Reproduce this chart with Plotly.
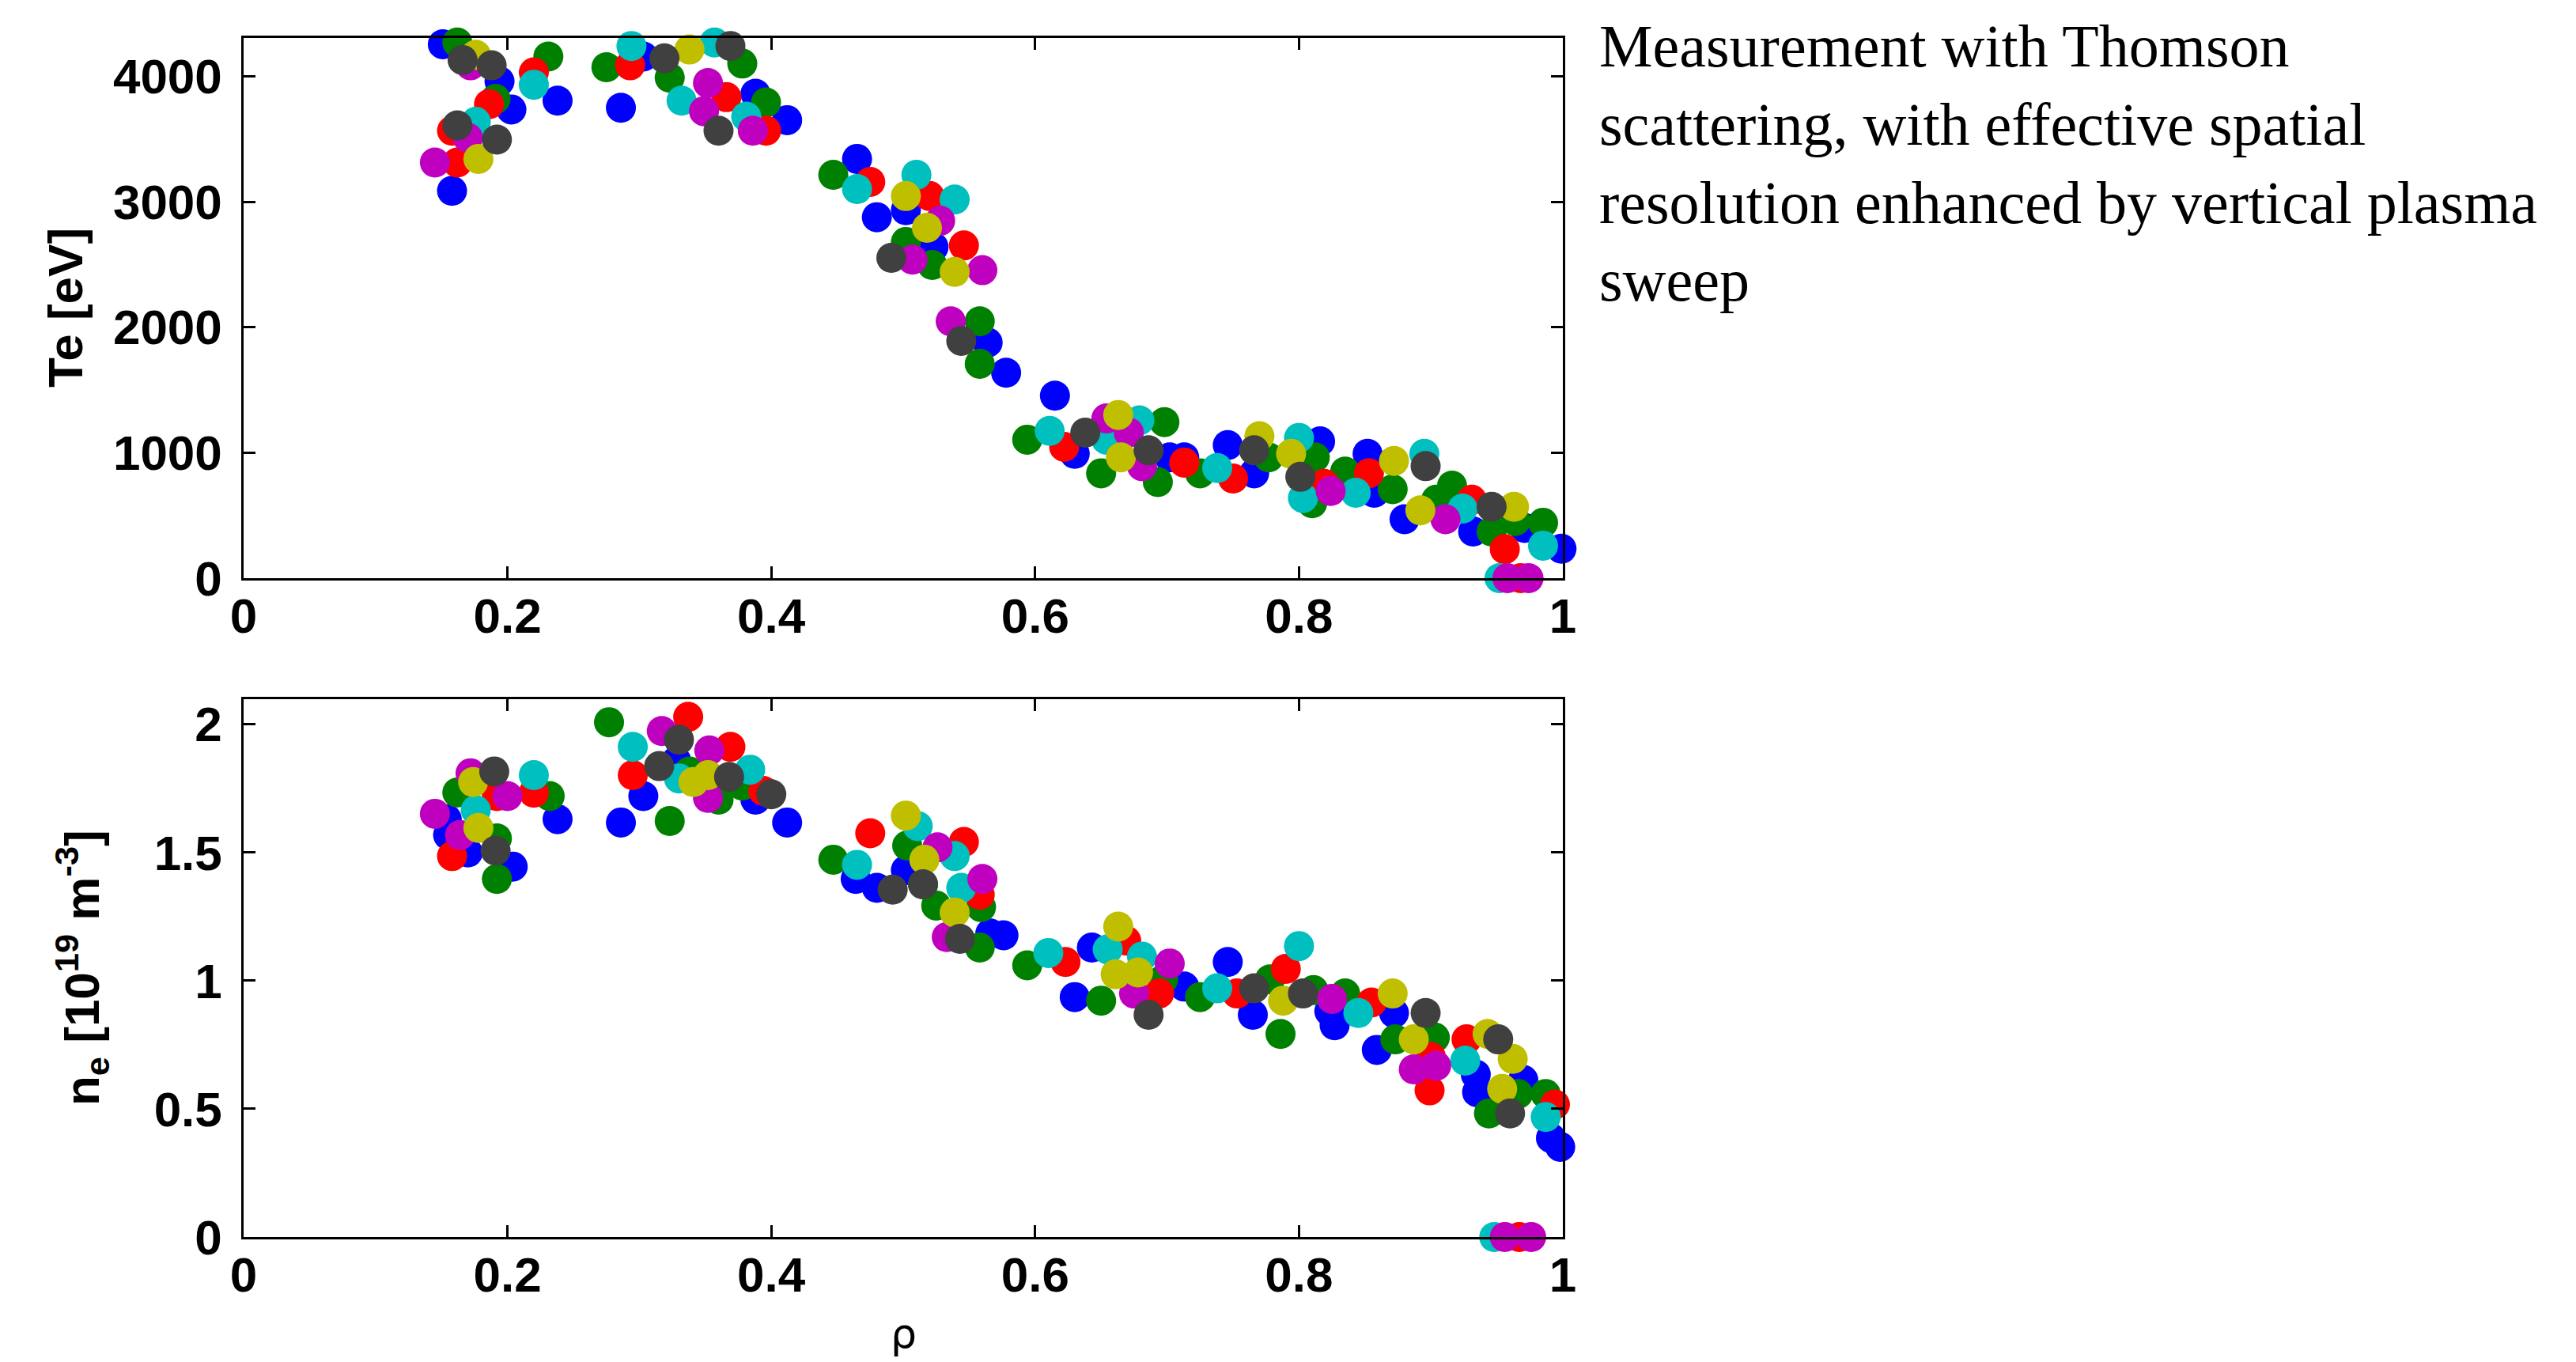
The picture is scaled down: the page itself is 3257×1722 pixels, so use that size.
import plotly.graph_objects as go

# ---------------- data ----------------
series_names = ["blue", "green", "red", "cyan", "magenta", "olive", "gray"]
series_colors = ["#0000FF", "#008000", "#FF0000", "#00BFBF", "#BF00BF", "#BFBF00", "#404040"]

# Te panel
rho_te_blue = [0.151, 0.158, 0.194, 0.203, 0.238, 0.286, 0.303, 0.388, 0.412, 0.465, 0.480, 0.502, 0.523, 0.564, 0.578, 0.615, 0.630, 0.702, 0.713, 0.746, 0.766, 0.816, 0.852, 0.857, 0.880, 0.932, 0.971, 0.999]
te_blue = [4256, 3088, 3961, 3736, 3806, 3750, 4158, 3862, 3651, 3342, 2877, 2933, 2640, 1878, 1638, 1455, 991, 963, 963, 1061, 836, 1090, 991, 681, 470, 372, 400, 235]

rho_te_green = [0.162, 0.191, 0.231, 0.275, 0.323, 0.378, 0.396, 0.447, 0.502, 0.522, 0.558, 0.558, 0.594, 0.650, 0.693, 0.698, 0.725, 0.777, 0.810, 0.812, 0.835, 0.871, 0.904, 0.916, 0.946, 0.964, 0.985]
te_green = [4270, 3820, 4158, 4073, 3989, 4102, 3792, 3215, 2680, 2497, 2047, 1709, 1104, 836, 766, 1244, 836, 963, 597, 963, 850, 709, 625, 738, 372, 456, 442]

rho_te_red = [0.158, 0.162, 0.186, 0.220, 0.293, 0.366, 0.396, 0.475, 0.520, 0.546, 0.622, 0.713, 0.750, 0.819, 0.853, 0.931, 0.956, 0.968]
te_red = [3567, 3313, 3778, 4031, 4088, 3834, 3567, 3159, 3046, 2652, 1047, 921, 794, 752, 836, 625, 231, 0]

rho_te_cyan = [0.176, 0.220, 0.294, 0.332, 0.357, 0.381, 0.465, 0.510, 0.539, 0.611, 0.654, 0.679, 0.738, 0.800, 0.803, 0.843, 0.895, 0.924, 0.952, 0.985]
te_cyan = [3637, 3933, 4242, 3806, 4270, 3679, 3102, 3215, 3018, 1174, 1104, 1258, 878, 1118, 639, 681, 991, 555, 0, 259]

rho_te_magenta = [0.145, 0.170, 0.172, 0.349, 0.352, 0.386, 0.507, 0.528, 0.536, 0.560, 0.654, 0.671, 0.681, 0.824, 0.911, 0.958, 0.974]
te_magenta = [3313, 3510, 4088, 3722, 3947, 3567, 2539, 2849, 2047, 2455, 1273, 1160, 893, 695, 470, 0, 0]

rho_te_olive = [0.176, 0.178, 0.338, 0.502, 0.518, 0.539, 0.663, 0.665, 0.770, 0.794, 0.872, 0.892, 0.963]
te_olive = [4172, 3342, 4214, 3046, 2793, 2441, 1301, 963, 1132, 991, 935, 541, 569]

rho_te_gray = [0.162, 0.166, 0.188, 0.192, 0.319, 0.360, 0.369, 0.491, 0.544, 0.638, 0.686, 0.766, 0.801, 0.896, 0.946]
te_gray = [3609, 4130, 4088, 3496, 4144, 3567, 4242, 2553, 1892, 1160, 1019, 1019, 808, 893, 569]

# ne panel
rho_ne_blue = [0.154, 0.155, 0.170, 0.204, 0.238, 0.286, 0.303, 0.328, 0.388, 0.412, 0.464, 0.480, 0.502, 0.566, 0.576, 0.630, 0.643, 0.713, 0.746, 0.765, 0.823, 0.827, 0.859, 0.872, 0.934, 0.935, 0.970, 0.991, 0.998]
ne_blue = [1.630, 1.568, 1.500, 1.445, 1.630, 1.617, 1.720, 1.857, 1.706, 1.617, 1.397, 1.362, 1.431, 1.184, 1.177, 0.936, 1.129, 0.977, 1.073, 0.867, 0.881, 0.826, 0.730, 0.874, 0.634, 0.565, 0.613, 0.386, 0.352]

rho_ne_green = [0.162, 0.192, 0.192, 0.232, 0.277, 0.323, 0.338, 0.360, 0.378, 0.447, 0.503, 0.515, 0.525, 0.558, 0.559, 0.594, 0.650, 0.697, 0.725, 0.778, 0.786, 0.811, 0.835, 0.873, 0.903, 0.944, 0.966, 0.987]
ne_green = [1.734, 1.555, 1.397, 1.720, 2.008, 1.623, 1.816, 1.706, 1.761, 1.472, 1.527, 1.376, 1.293, 1.129, 1.287, 1.060, 0.922, 1.005, 0.936, 1.005, 0.792, 0.963, 0.950, 0.771, 0.778, 0.482, 0.558, 0.558]

rho_ne_red = [0.158, 0.192, 0.220, 0.295, 0.337, 0.369, 0.394, 0.475, 0.546, 0.558, 0.623, 0.669, 0.694, 0.753, 0.790, 0.855, 0.899, 0.900, 0.927, 0.967, 0.994]
ne_red = [1.486, 1.720, 1.733, 1.802, 2.029, 1.912, 1.740, 1.575, 1.541, 1.335, 1.073, 1.156, 0.950, 0.950, 1.046, 0.915, 0.572, 0.702, 0.771, 0.0, 0.517]

rho_ne_cyan = [0.176, 0.220, 0.295, 0.330, 0.384, 0.465, 0.511, 0.539, 0.544, 0.610, 0.655, 0.681, 0.738, 0.800, 0.845, 0.926, 0.948, 0.987]
ne_cyan = [1.665, 1.802, 1.912, 1.789, 1.823, 1.452, 1.603, 1.486, 1.362, 1.108, 1.122, 1.094, 0.970, 1.135, 0.874, 0.688, 0.0, 0.468]

rho_ne_magenta = [0.145, 0.164, 0.172, 0.200, 0.317, 0.352, 0.353, 0.526, 0.533, 0.560, 0.675, 0.702, 0.825, 0.887, 0.904, 0.956, 0.976]
ne_magenta = [1.651, 1.568, 1.809, 1.720, 1.974, 1.713, 1.898, 1.520, 1.170, 1.397, 0.950, 1.067, 0.929, 0.654, 0.668, 0.0, 0.0]

rho_ne_olive = [0.174, 0.178, 0.341, 0.352, 0.502, 0.516, 0.539, 0.661, 0.663, 0.678, 0.788, 0.871, 0.887, 0.943, 0.954, 0.962]
ne_olive = [1.775, 1.596, 1.775, 1.802, 1.644, 1.472, 1.266, 1.025, 1.211, 1.032, 0.922, 0.950, 0.771, 0.792, 0.578, 0.695]

rho_ne_gray = [0.190, 0.191, 0.315, 0.330, 0.368, 0.400, 0.492, 0.515, 0.543, 0.686, 0.766, 0.803, 0.896, 0.951, 0.960]
ne_gray = [1.816, 1.507, 1.837, 1.940, 1.795, 1.727, 1.355, 1.376, 1.163, 0.867, 0.970, 0.950, 0.874, 0.771, 0.482]

x_tickvals = [0, 0.2, 0.4, 0.6, 0.8, 1]
x_ticktext = ["0", "0.2", "0.4", "0.6", "0.8", "1"]
te_tickvals = [0, 1000, 2000, 3000, 4000]
te_ticktext = ["0", "1000", "2000", "3000", "4000"]
ne_tickvals = [0, 0.5, 1, 1.5, 2]
ne_ticktext = ["0", "0.5", "1", "1.5", "2"]

te_title = "Te [eV]"
ne_title = "n<sub>e</sub> [10<sup>19</sup> m<sup>-3</sup>]"
x_title = "ρ"
note_text = ("Measurement with Thomson<br>scattering, with effective spatial<br>"
             "resolution enhanced by vertical plasma<br>sweep")

te_data = [(rho_te_blue, te_blue), (rho_te_green, te_green), (rho_te_red, te_red),
           (rho_te_cyan, te_cyan), (rho_te_magenta, te_magenta), (rho_te_olive, te_olive),
           (rho_te_gray, te_gray)]
ne_data = [(rho_ne_blue, ne_blue), (rho_ne_green, ne_green), (rho_ne_red, ne_red),
           (rho_ne_cyan, ne_cyan), (rho_ne_magenta, ne_magenta), (rho_ne_olive, ne_olive),
           (rho_ne_gray, ne_gray)]

# ---------------- figure ----------------
W, H = 3257, 1722
fig = go.Figure()

MARKER_SIZE = 38
for (xs, ys), name, col in zip(te_data, series_names, series_colors):
    fig.add_trace(go.Scatter(x=xs, y=ys, mode="markers", name=name, showlegend=False,
                             cliponaxis=False,
                             marker=dict(size=MARKER_SIZE, color=col, line=dict(width=0)),
                             xaxis="x", yaxis="y"))
for (xs, ys), name, col in zip(ne_data, series_names, series_colors):
    fig.add_trace(go.Scatter(x=xs, y=ys, mode="markers", name=name, showlegend=False,
                             cliponaxis=False,
                             marker=dict(size=MARKER_SIZE, color=col, line=dict(width=0)),
                             xaxis="x2", yaxis="y2"))

x0, x1 = 300 / W, 1968 / W
top_dom = [1 - 723 / H, 1 - 40 / H]
bot_dom = [1 - 1556 / H, 1 - 876 / H]

tickfont = dict(family="Liberation Sans, Arial, sans-serif", size=62, color="black", weight="bold")
common = dict(showline=True, linecolor="black", linewidth=2.5, mirror="ticks",
              ticks="inside", ticklen=15, tickwidth=2.5, tickcolor="black",
              showgrid=False, zeroline=False, tickfont=tickfont, automargin=False)

fig.update_layout(
    width=W, height=H,
    margin=dict(l=0, r=0, t=0, b=0),
    paper_bgcolor="white", plot_bgcolor="white",
    xaxis=dict(domain=[x0, x1], range=[0, 1], anchor="y", tickvals=x_tickvals,
               ticktext=x_ticktext, ticklabelstandoff=-8, **common),
    yaxis=dict(domain=top_dom, range=[0, 4306], anchor="x", tickvals=te_tickvals,
               ticktext=te_ticktext, ticklabelstandoff=12, **common),
    xaxis2=dict(domain=[x0, x1], range=[0, 1], anchor="y2", tickvals=x_tickvals,
                ticktext=x_ticktext, ticklabelstandoff=-8, **common),
    yaxis2=dict(domain=bot_dom, range=[0, 2.098], anchor="x2", tickvals=ne_tickvals,
                ticktext=ne_ticktext, ticklabelstandoff=12, **common),
)

titlefont = dict(family="Liberation Sans, Arial, sans-serif", size=62, color="black", weight="bold")
fig.add_annotation(text=te_title, xref="paper", yref="paper", x=75 / W, y=1 - 381 / H,
                   textangle=-90, showarrow=False, font=titlefont,
                   xanchor="center", yanchor="middle")
fig.add_annotation(text=ne_title, xref="paper", yref="paper", x=95 / W, y=1 - 1216 / H,
                   textangle=-90, showarrow=False, font=titlefont,
                   xanchor="center", yanchor="middle")
fig.add_annotation(text=x_title, xref="paper", yref="paper", x=1134 / W, y=1 - 1678 / H,
                   showarrow=False,
                   font=dict(family="DejaVu Sans, sans-serif", size=52, color="black"),
                   xanchor="center", yanchor="middle")
fig.add_annotation(text=note_text, xref="paper", yref="paper", x=2012 / W, y=1 - 6 / H,
                   showarrow=False, align="left",
                   font=dict(family="Liberation Serif, Times New Roman, serif", size=76, color="black"),
                   xanchor="left", yanchor="top")

fig.write_html("out.html")
